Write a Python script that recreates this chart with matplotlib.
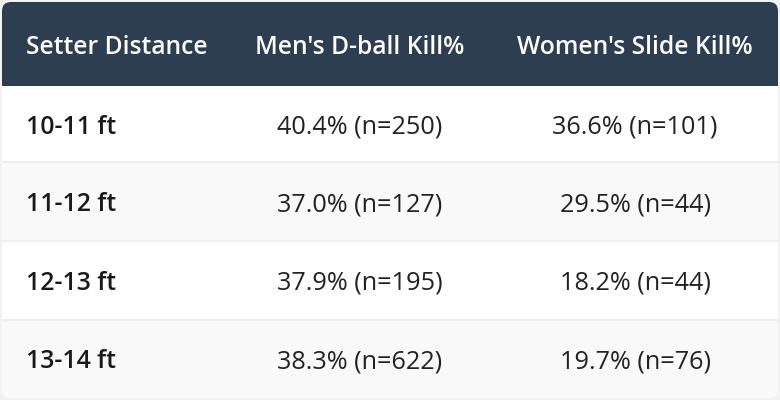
import matplotlib.pyplot as plt
from matplotlib.patches import FancyBboxPatch, Rectangle

columns = ["Setter Distance", "Men's D-ball Kill%", "Women's Slide Kill%"]
distances = ["10-11 ft", "11-12 ft", "12-13 ft", "13-14 ft"]
men_pct = [40.4, 37.0, 37.9, 38.3]
men_n = [250, 127, 195, 622]
women_pct = [36.6, 29.5, 18.2, 19.7]
women_n = [101, 44, 44, 76]

plt.rcParams['font.family'] = ['Open Sans', 'DejaVu Sans']

W, H = 780, 400
fig = plt.figure(figsize=(W / 100, H / 100), dpi=100)
fig.patch.set_facecolor('#f2f2f2')
ax = fig.add_axes([0, 0, 1, 1])
ax.set_xlim(0, W)
ax.set_ylim(H, 0)
ax.axis('off')

left, right, top, bottom = 2, 778, 2, 398
header_bottom = 86
row_edges = [86, 162, 241, 320, 398]
col_x = [26, 360, 635]
rad = 9

# table body
ax.add_patch(FancyBboxPatch((left + rad, top + rad), right - left - 2 * rad, bottom - top - 2 * rad,
                            boxstyle=f"round,pad={rad}", fc='white', ec='none'))
# header
ax.add_patch(FancyBboxPatch((left + rad, top + rad), right - left - 2 * rad, header_bottom - top - 2 * rad,
                            boxstyle=f"round,pad={rad}", fc='#2c3e50', ec='none'))
ax.add_patch(Rectangle((left, 40), right - left, header_bottom - 40, fc='#2c3e50', ec='none'))

for i in range(len(distances)):
    y0, y1 = row_edges[i], row_edges[i + 1]
    if i % 2 == 1:
        if i == len(distances) - 1:
            ax.add_patch(FancyBboxPatch((left + rad, y0 + rad), right - left - 2 * rad, y1 - y0 - 2 * rad,
                                        boxstyle=f"round,pad={rad}", fc='#f9f9f9', ec='none'))
            ax.add_patch(Rectangle((left, y0), right - left, 30, fc='#f9f9f9', ec='none'))
        else:
            ax.add_patch(Rectangle((left, y0), right - left, y1 - y0, fc='#f9f9f9', ec='none'))
    if i > 0:
        ax.plot([left, right], [y0, y0], color='#eeeeee', lw=1.5, solid_capstyle='butt')

hy = (top + header_bottom) / 2 + 3
ax.text(col_x[0], hy, columns[0], color='white', fontsize=17.7, fontweight='semibold', ha='left', va='center')
for j in (1, 2):
    ax.text(col_x[j], hy, columns[j], color='white', fontsize=17.7, fontweight='semibold', ha='center', va='center')

for i in range(len(distances)):
    cy = (row_edges[i] + row_edges[i + 1]) / 2 + 3
    ax.text(col_x[0], cy, distances[i], color='#1a1a1a', fontsize=17.8, fontweight='semibold', ha='left', va='center')
    ax.text(col_x[1], cy, f"{men_pct[i]:.1f}% (n={men_n[i]})", color='#222222', fontsize=18.2, ha='center', va='center')
    ax.text(col_x[2], cy, f"{women_pct[i]:.1f}% (n={women_n[i]})", color='#222222', fontsize=18.2, ha='center', va='center')

fig.savefig('out.png', dpi=100, facecolor=fig.get_facecolor())
